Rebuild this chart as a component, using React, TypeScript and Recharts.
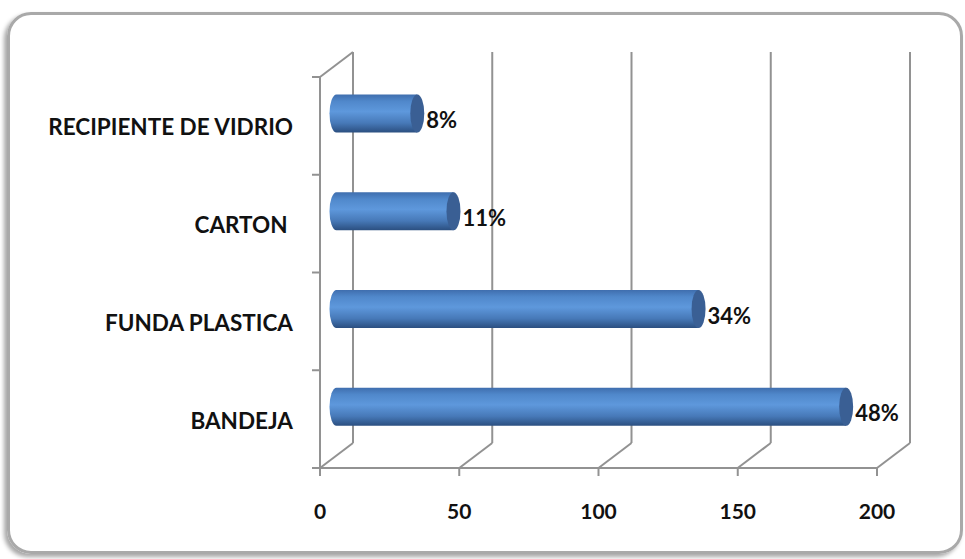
import { Bar, BarChart, CartesianGrid, LabelList, XAxis, YAxis } from 'recharts';

const categories = ['RECIPIENTE DE VIDRIO', 'CARTON ', 'FUNDA PLASTICA', 'BANDEJA'];
const values = [29, 42, 130, 183];
const percentLabels = ['8%', '11%', '34%', '48%'];
const xTicks = [0, 50, 100, 150, 200];

const data = categories.map((name, i) => ({ name, value: values[i], label: percentLabels[i] }));

// 3D depth of the Excel style chart
const DX = 33;
const DY = -25;
const GRID = '#929292';
const FONT = 'Lato, "Open Sans", sans-serif';

function Cylinder(props: any) {
  const { x, y, width, height, index } = props;
  const bx = x + DX / 2;
  const by = y + DY / 2;
  const rx = 7;
  const ry = height / 2;
  const id = `cyl-${index}`;
  return (
    <g>
      <defs>
        <linearGradient id={id} x1="0" y1="0" x2="0" y2="1">
          <stop offset="0%" stopColor="#3f6eae" />
          <stop offset="18%" stopColor="#5088cb" />
          <stop offset="45%" stopColor="#5e98dc" />
          <stop offset="75%" stopColor="#4779b8" />
          <stop offset="100%" stopColor="#2b4f80" />
        </linearGradient>
      </defs>
      <path
        d={`M${bx},${by} L${bx + width},${by} L${bx + width},${by + height} L${bx},${by + height} A${rx},${ry} 0 0 1 ${bx},${by} Z`}
        fill={`url(#${id})`}
      />
      <ellipse cx={bx + width} cy={by + ry} rx={rx} ry={ry} fill="#3a5f94" />
    </g>
  );
}

function PercentLabel(props: any) {
  const { x, y, width, height, value } = props;
  return (
    <text
      x={Number(x) + Number(width) + DX / 2 + 9}
      y={Number(y) + DY / 2 + Number(height) / 2 + 6}
      dominantBaseline="central"
      fontFamily={FONT}
      fontWeight={700}
      fontSize={22}
      fill="#111"
    >
      {value}
    </text>
  );
}

function CategoryTick(props: any) {
  const { x, y, payload, index } = props;
  const half = payload && payload.offset ? payload.offset : 48.75;
  return (
    <g>
      <text
        x={x - 27}
        y={y + 1}
        textAnchor="end"
        dominantBaseline="central"
        fontFamily={FONT}
        fontWeight={700}
        fontSize={22.5}
        fill="#111"
        style={{ whiteSpace: 'pre' }}
      >
        {payload.value}
      </text>
      <line x1={x - 8} x2={x} y1={y - half} y2={y - half} stroke={GRID} strokeWidth={2} />
      {index === categories.length - 1 && (
        <line x1={x - 8} x2={x} y1={y + half} y2={y + half} stroke={GRID} strokeWidth={2} />
      )}
    </g>
  );
}

function ValueTick(props: any) {
  const { x, y, payload } = props;
  return (
    <text
      x={x}
      y={y + 34}
      textAnchor="middle"
      dominantBaseline="central"
      fontFamily={FONT}
      fontWeight={700}
      fontSize={21}
      fill="#111"
    >
      {payload.value}
    </text>
  );
}

// back wall lines + floor diagonals, one per x tick
function BackLine(props: any) {
  const { x1, y1, y2, index } = props;
  return (
    <g key={`bl-${index}`}>
      <line x1={x1 + DX} x2={x1 + DX} y1={y1 + DY} y2={y2 + DY} stroke={GRID} strokeWidth={2} />
      <line x1={x1 + DX} x2={x1} y1={y2 + DY} y2={y2} stroke={GRID} strokeWidth={2} />
      {index === 0 && (
        <line x1={x1} x2={x1 + DX} y1={y1} y2={y1 + DY} stroke={GRID} strokeWidth={2} />
      )}
    </g>
  );
}

export default function App() {
  return (
    <div style={{ position: 'absolute', left: 0, top: 0, width: 965, height: 559, background: '#fff' }}>
      <div
        style={{
          position: 'absolute',
          left: 7,
          top: 12,
          width: 950,
          height: 536,
          border: '3px solid #a9a9a9',
          borderRadius: 24,
          boxShadow: '-3px 3px 4px rgba(0,0,0,0.35)',
        }}
      />
      <div style={{ position: 'absolute', left: 0, top: 0 }}>
        <BarChart
          width={965}
          height={559}
          data={data}
          layout="vertical"
          margin={{ top: 77, right: 88, bottom: 51, left: 0 }}
        >
          <CartesianGrid horizontal={false} vertical={BackLine} />
          <XAxis
            type="number"
            domain={[0, 200]}
            ticks={xTicks}
            height={40}
            axisLine={{ stroke: GRID, strokeWidth: 2 }}
            tickLine={{ stroke: GRID, strokeWidth: 2 }}
            tickSize={8}
            tickMargin={0}
            tick={<ValueTick />}
          />
          <YAxis
            type="category"
            dataKey="name"
            width={320}
            axisLine={{ stroke: GRID, strokeWidth: 2 }}
            tickLine={false}
            tickSize={0}
            tickMargin={0}
            tick={<CategoryTick />}
            interval={0}
          />
          <Bar dataKey="value" barSize={38} shape={<Cylinder />} isAnimationActive={false}>
            <LabelList dataKey="label" content={<PercentLabel />} />
          </Bar>
        </BarChart>
      </div>
    </div>
  );
}
